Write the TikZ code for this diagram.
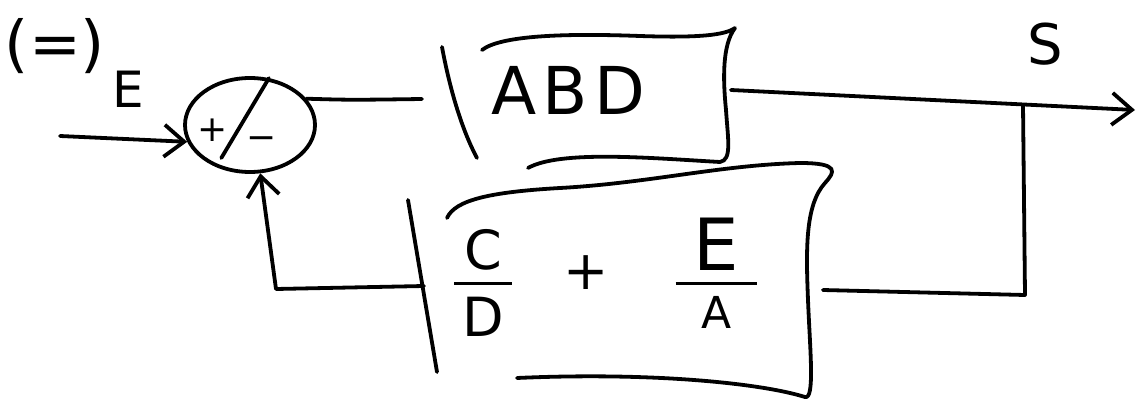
\documentclass[tikz,border=0pt]{standalone}
\usepackage{fontspec}
\setmainfont{DejaVu Sans}
\usetikzlibrary{shapes.geometric,arrows.meta,calc}
\begin{document}
\begin{tikzpicture}[x=1pt,y=-1pt,line width=3.8pt,line cap=round,line join=round,
  lbl/.style={inner sep=0pt,font=\fontsize{50}{56}\selectfont},
  sym/.style={inner sep=0pt,font=\fontsize{36}{40}\selectfont},
  boxnode/.style={draw=none,inner ysep=0pt,align=left},
  arr/.style={-{Straight Barb[length=20pt,width=32pt]}}]
\useasboundingbox (0,0) rectangle (1141,401);
% labels
\node[lbl,font=\fontsize{62}{66}\selectfont] (eq) at (55,46) {(=)};
\node[lbl] (Ein) at (128,89) {E};
\node[lbl,font=\fontsize{56}{60}\selectfont] (S) at (1045,44) {S};
% summing junction
\node[draw,ellipse,minimum width=130pt,minimum height=94pt,inner sep=0pt] (sum) at (250,125) {};
\node[sym] (plus) at (213,130) {+};
\node[sym] (minus) at (262,143) {−};
\draw (sum.68) -- ($(sum.center)!0.8!(sum.229)$);
% forward block
\node[boxnode,minimum width=246pt,minimum height=130pt,text width=230pt,inner xsep=8pt,
  font=\fontsize{66}{70}\selectfont\addfontfeature{LetterSpace=10}] (G) at (606,90) {ABD};
\draw (482,50) .. controls (500,36) and (560,33) .. (640,36)
  .. controls (700,38) and (725,35) .. (735,28)
  .. controls (722,45) and (723,80) .. (726,110)
  .. controls (728,140) and (732,160) .. (720,162)
  .. controls (650,158) and (560,150) .. (528,168);
\coordinate (Gbar1) at (442,47);
\coordinate (Gbar2) at (477,158);
\draw (Gbar1) .. controls (450,90) and (462,130) .. (Gbar2);
\coordinate (Gin) at (422,99);
% feedback block
\node[boxnode,minimum width=370pt,minimum height=200pt,text width=354pt,inner xsep=8pt,
  font=\fontsize{54}{58}\selectfont] (H) at (632,277)
  {\hspace*{-2pt}$\displaystyle{\mbox{\hspace{10pt}C\hspace{10pt}}\above3.8pt\mbox{D}}
   \hspace{50pt}\mbox{+}\hspace{66pt}
   {\mbox{\hspace{18pt}\fontsize{72}{74}\selectfont E\hspace{18pt}}\above3.8pt\mbox{\fontsize{44}{48}\selectfont A}}$};
\draw (447,218) .. controls (455,200) and (490,192) .. (560,188)
  .. controls (650,183) and (720,165) .. (800,163)
  .. controls (840,163) and (835,172) .. (825,183)
  .. controls (805,205) and (806,250) .. (808,300)
  .. controls (810,350) and (815,400) .. (805,397)
  .. controls (760,383) and (650,372) .. (517,378);
\coordinate (Hbar1) at (408,200);
\coordinate (Hbar2) at (437,372);
\draw (Hbar1) -- (Hbar2);
\coordinate (Hin) at (424,286);
\coordinate (Hout) at ($(H.east)+(4,13)$);
% connectors
\coordinate (in) at (60,136);
\coordinate (out) at (1135,110);
\coordinate (br) at (1023,105);
\coordinate (brd) at (1025,295);
\coordinate (fbl) at (276,289);
\draw[arr] (in) -- (sum.195);
\draw (sum.25) .. controls (350,100) .. (Gin);
\draw[arr] (G.east) -- (out);
\draw (br) -- (brd) -- (Hout);
\draw[arr] (Hin) -- (fbl) -- (sum.-78);
\end{tikzpicture}
\end{document}
